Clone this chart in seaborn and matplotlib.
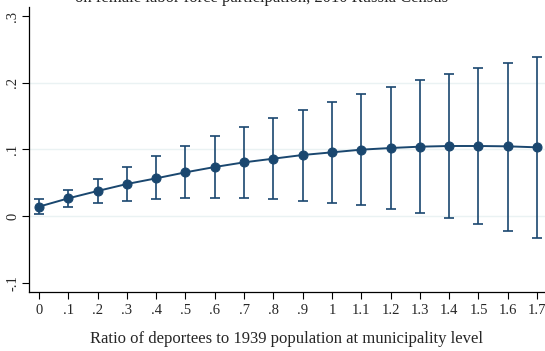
import matplotlib
matplotlib.use("Agg")
import matplotlib.pyplot as plt
import seaborn as sns
import numpy as np
import pandas as pd

ratio = [0.0, 0.1, 0.2, 0.3, 0.4, 0.5, 0.6, 0.7, 0.8, 0.9, 1.0, 1.1, 1.2, 1.3, 1.4, 1.5, 1.6, 1.7]
effect = [0.014, 0.0265, 0.0375, 0.048, 0.0565, 0.0655, 0.0735, 0.0805, 0.086, 0.0915,
          0.0955, 0.0995, 0.102, 0.104, 0.105, 0.105, 0.1045, 0.103]
ci_low = [0.003, 0.013, 0.019, 0.0225, 0.025, 0.0265, 0.027, 0.0265, 0.0255, 0.023,
          0.020, 0.016, 0.0105, 0.004, -0.0035, -0.012, -0.022, -0.0335]
ci_high = [0.025, 0.039, 0.056, 0.073, 0.0895, 0.105, 0.12, 0.133, 0.147, 0.159,
           0.171, 0.183, 0.193, 0.2035, 0.213, 0.2215, 0.23, 0.239]
xticks = [0, 0.1, 0.2, 0.3, 0.4, 0.5, 0.6, 0.7, 0.8, 0.9, 1.0, 1.1, 1.2, 1.3, 1.4, 1.5, 1.6, 1.7]
xticklabels = ["0", ".1", ".2", ".3", ".4", ".5", ".6", ".7", ".8", ".9", "1",
               "1.1", "1.2", "1.3", "1.4", "1.5", "1.6", "1.7"]
yticks = [-0.1, 0, 0.1, 0.2, 0.3]
yticklabels = ["-.1", "0", ".1", ".2", ".3"]
title = "on female labor force participation, 2010 Russia Census"
xlabel = "Ratio of deportees to 1939 population at municipality level"

df = pd.DataFrame({"ratio": ratio, "effect": effect, "lo": ci_low, "hi": ci_high})

sns.set_style("white")
plt.rcParams["font.family"] = ["Liberation Serif", "DejaVu Serif"]
navy = "#1a476f"

fig = plt.figure(figsize=(5.45, 3.51), dpi=100)
ax = fig.add_axes([29 / 545, 1 - 292 / 351, 1 - 29 / 545, (292 - 7) / 351])

for y in [0, 0.1, 0.2]:
    ax.axhline(y, color="#eaf2f3", lw=1.0, zorder=0)

yerr = np.array([df["effect"] - df["lo"], df["hi"] - df["effect"]])
ax.errorbar(df["ratio"], df["effect"], yerr=yerr, fmt="none", ecolor=navy,
            elinewidth=1.2, capsize=3.5, capthick=1.2, zorder=2)
sns.lineplot(data=df, x="ratio", y="effect", ax=ax, color=navy, lw=1.4,
             marker="o", markersize=6.5, markeredgecolor=navy, zorder=3)

ax.set_xlim(-0.034, 1.727)
ax.set_ylim(-0.114, 0.3135)
ax.set_xticks(xticks)
ax.set_xticklabels(xticklabels)
ax.set_yticks(yticks)
ax.set_yticklabels(yticklabels, rotation=90, va="center")
ax.tick_params(axis="both", direction="out", length=5, width=0.8, color="black",
               labelsize=10.5, bottom=True, left=True)
ax.tick_params(axis="x", pad=4)
ax.tick_params(axis="y", pad=2)
for s in ["top", "right"]:
    ax.spines[s].set_visible(False)
for s in ["left", "bottom"]:
    ax.spines[s].set_color("black")
    ax.spines[s].set_linewidth(0.9)
ax.set_xlabel(xlabel, fontsize=12, labelpad=9.5)
ax.set_ylabel("")

fig.text(262 / 545, 1 - 2.5 / 351, title, ha="center", va="baseline", fontsize=12)

fig.savefig("out.png", dpi=100)
